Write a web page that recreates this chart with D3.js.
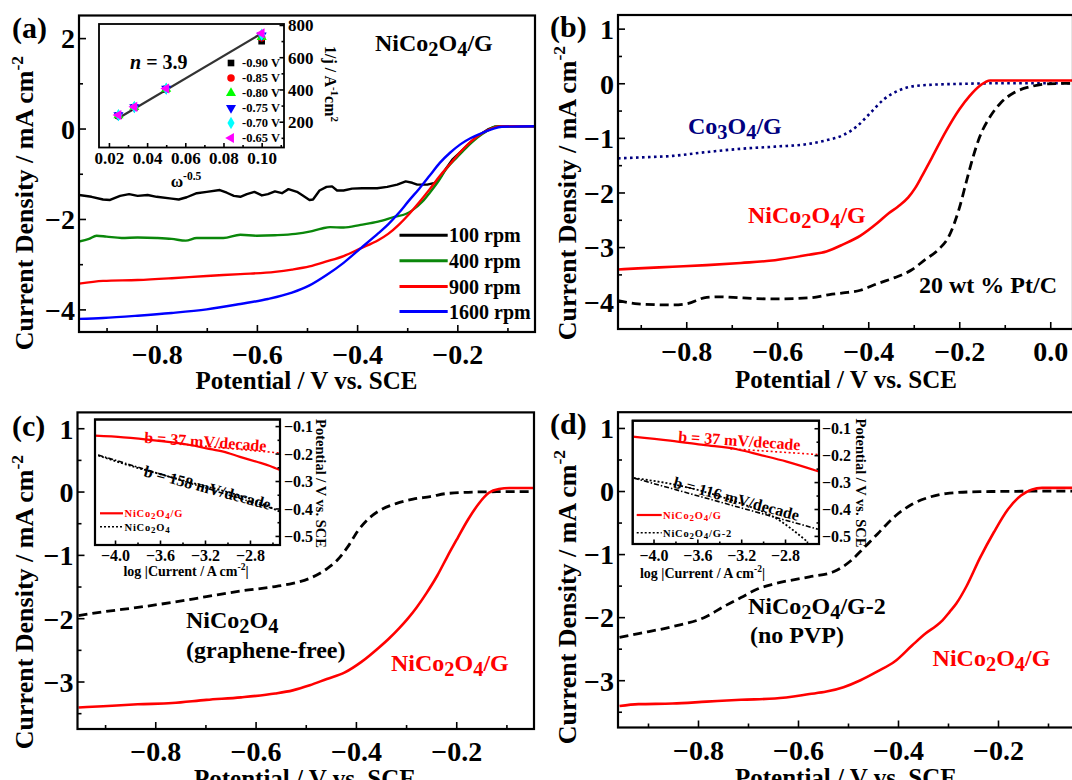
<!DOCTYPE html>
<html>
<head>
<meta charset="utf-8">
<script src="https://cdn.jsdelivr.net/npm/d3@7"></script>
<style>
  body { margin: 0; background: #fff; }
  svg { display: block; }
</style>
</head>
<body>
<script>
// ---------------- Panel (a): LSV of NiCo2O4/G at several rotation rates ----------------
// potential (V vs. SCE), current density (mA cm^-2)
const rpmLabels = ["100 rpm", "400 rpm", "900 rpm", "1600 rpm"];
const lsv100 = [[-0.955,-1.47],[-0.93,-1.51],[-0.907,-1.57],[-0.893,-1.58],[-0.873,-1.49],[-0.855,-1.45],[-0.838,-1.49],[-0.818,-1.47],[-0.80,-1.51],[-0.77,-1.55],[-0.756,-1.57],[-0.74,-1.52],[-0.72,-1.43],[-0.70,-1.40],[-0.674,-1.36],[-0.66,-1.42],[-0.646,-1.49],[-0.633,-1.51],[-0.62,-1.45],[-0.605,-1.40],[-0.59,-1.48],[-0.578,-1.45],[-0.564,-1.39],[-0.55,-1.43],[-0.537,-1.34],[-0.52,-1.40],[-0.51,-1.47],[-0.495,-1.58],[-0.488,-1.57],[-0.475,-1.37],[-0.461,-1.29],[-0.45,-1.28],[-0.44,-1.37],[-0.427,-1.37],[-0.41,-1.33],[-0.39,-1.32],[-0.36,-1.32],[-0.34,-1.29],[-0.32,-1.24],[-0.303,-1.17],[-0.29,-1.20],[-0.28,-1.24],[-0.26,-1.24],[-0.245,-1.20],[-0.235,-1.09],[-0.221,-0.86],[-0.21,-0.69],[-0.194,-0.52],[-0.18,-0.37],[-0.165,-0.21],[-0.15,-0.10],[-0.139,-0.02],[-0.125,0.04],[-0.11,0.05],[-0.045,0.05]];
const lsv400 = [[-0.955,-2.50],[-0.935,-2.44],[-0.92,-2.37],[-0.90,-2.39],[-0.87,-2.42],[-0.838,-2.41],[-0.80,-2.42],[-0.77,-2.44],[-0.742,-2.48],[-0.72,-2.42],[-0.70,-2.42],[-0.667,-2.42],[-0.633,-2.35],[-0.60,-2.37],[-0.564,-2.36],[-0.523,-2.33],[-0.495,-2.28],[-0.47,-2.21],[-0.454,-2.18],[-0.427,-2.19],[-0.393,-2.13],[-0.358,-2.06],[-0.324,-1.95],[-0.303,-1.89],[-0.29,-1.81],[-0.27,-1.62],[-0.255,-1.42],[-0.24,-1.20],[-0.221,-0.88],[-0.20,-0.63],[-0.18,-0.40],[-0.16,-0.20],[-0.14,-0.05],[-0.125,0.04],[-0.11,0.05],[-0.045,0.05]];
const lsv900 = [[-0.955,-3.43],[-0.907,-3.37],[-0.838,-3.35],[-0.77,-3.31],[-0.70,-3.26],[-0.633,-3.22],[-0.564,-3.17],[-0.53,-3.12],[-0.495,-3.05],[-0.461,-2.94],[-0.427,-2.82],[-0.393,-2.65],[-0.358,-2.47],[-0.338,-2.33],[-0.317,-2.13],[-0.297,-1.90],[-0.276,-1.63],[-0.255,-1.34],[-0.235,-1.05],[-0.214,-0.78],[-0.194,-0.52],[-0.173,-0.29],[-0.153,-0.12],[-0.132,0.0],[-0.111,0.05],[-0.045,0.05]];
const lsv1600 = [[-0.955,-4.21],[-0.907,-4.19],[-0.838,-4.14],[-0.77,-4.08],[-0.70,-4.00],[-0.633,-3.88],[-0.578,-3.77],[-0.53,-3.63],[-0.495,-3.47],[-0.461,-3.24],[-0.427,-2.97],[-0.393,-2.65],[-0.358,-2.32],[-0.338,-2.12],[-0.317,-1.87],[-0.297,-1.60],[-0.276,-1.33],[-0.255,-1.04],[-0.235,-0.76],[-0.214,-0.53],[-0.194,-0.35],[-0.173,-0.21],[-0.153,-0.11],[-0.132,-0.02],[-0.111,0.04],[-0.045,0.05]];

// Koutecky-Levich inset: omega^-0.5 vs 1/j (A^-1 cm^2)
const klOmega = [0.025, 0.0333, 0.05, 0.1];
const klPotentials = ["-0.90 V", "-0.85 V", "-0.80 V", "-0.75 V", "-0.70 V", "-0.65 V"];
const klInvJ090 = [238, 288, 402, 700];
const klInvJ085 = [239, 289, 403, 720];
const klInvJ080 = [240, 290, 404, 725];
const klInvJ075 = [240, 290, 405, 735];
const klInvJ070 = [241, 291, 405, 740];
const klInvJ065 = [242, 292, 406, 748];
const klFit = [[0.024, 215], [0.101, 755]];
const klElectrons = "n = 3.9";

// ---------------- Panel (b): comparison with Co3O4/G and Pt/C ----------------
const co3o4G = [[-0.95,-1.375],[-0.906,-1.36],[-0.83,-1.33],[-0.755,-1.26],[-0.68,-1.20],[-0.605,-1.16],[-0.53,-1.11],[-0.49,-1.04],[-0.455,-0.95],[-0.425,-0.79],[-0.395,-0.54],[-0.365,-0.29],[-0.335,-0.14],[-0.305,-0.06],[-0.267,-0.03],[-0.19,-0.01],[-0.117,0.0],[0.05,0.0]];
const nico2o4GB = [[-0.95,-3.41],[-0.906,-3.39],[-0.83,-3.36],[-0.755,-3.33],[-0.68,-3.29],[-0.605,-3.24],[-0.53,-3.14],[-0.492,-3.08],[-0.455,-2.95],[-0.417,-2.79],[-0.38,-2.56],[-0.355,-2.38],[-0.335,-2.26],[-0.312,-2.09],[-0.297,-1.92],[-0.282,-1.70],[-0.26,-1.36],[-0.23,-0.89],[-0.2,-0.48],[-0.177,-0.23],[-0.154,-0.04],[-0.132,0.05],[0.05,0.05]];
const ptC = [[-0.95,-3.98],[-0.906,-4.04],[-0.83,-4.06],[-0.8,-4.04],[-0.755,-3.92],[-0.725,-3.91],[-0.68,-3.93],[-0.605,-3.95],[-0.53,-3.93],[-0.485,-3.87],[-0.455,-3.84],[-0.417,-3.79],[-0.38,-3.67],[-0.342,-3.56],[-0.305,-3.42],[-0.275,-3.23],[-0.245,-3.04],[-0.222,-2.79],[-0.2,-2.29],[-0.184,-1.79],[-0.17,-1.36],[-0.155,-0.98],[-0.132,-0.61],[-0.109,-0.36],[-0.079,-0.17],[-0.042,-0.06],[-0.004,-0.01],[0.05,0.0]];

// ---------------- Panel (c): graphene-free NiCo2O4 ----------------
const nico2o4GC = [[-0.953,-3.41],[-0.904,-3.39],[-0.835,-3.36],[-0.766,-3.34],[-0.698,-3.29],[-0.629,-3.25],[-0.561,-3.19],[-0.526,-3.14],[-0.492,-3.06],[-0.458,-2.96],[-0.423,-2.86],[-0.389,-2.69],[-0.355,-2.47],[-0.334,-2.32],[-0.314,-2.16],[-0.297,-2.01],[-0.279,-1.83],[-0.259,-1.60],[-0.238,-1.33],[-0.218,-1.03],[-0.197,-0.73],[-0.177,-0.45],[-0.156,-0.20],[-0.135,-0.02],[-0.115,0.04],[-0.094,0.055],[-0.045,0.055]];
const nico2o4Free = [[-0.953,-1.96],[-0.904,-1.90],[-0.835,-1.83],[-0.766,-1.75],[-0.698,-1.66],[-0.629,-1.57],[-0.561,-1.50],[-0.526,-1.45],[-0.492,-1.37],[-0.458,-1.22],[-0.437,-1.08],[-0.416,-0.87],[-0.396,-0.62],[-0.375,-0.43],[-0.355,-0.31],[-0.32,-0.19],[-0.286,-0.12],[-0.252,-0.08],[-0.218,-0.03],[-0.149,-0.005],[-0.045,0.0]];
// Tafel inset (c): log|j| vs potential (V vs. SCE)
const tafelGC = [[-4.18,-0.135],[-3.926,-0.141],[-3.63,-0.153],[-3.333,-0.169],[-3.185,-0.181],[-3.037,-0.193],[-2.889,-0.212],[-2.74,-0.230],[-2.622,-0.245],[-2.533,-0.260]];
const tafelGFitC = [[-3.4,-0.166],[-2.533,-0.198]];
const tafelFree = [[-4.15,-0.207],[-3.9,-0.24],[-3.6,-0.275],[-3.3,-0.308],[-3.0,-0.34],[-2.8,-0.365],[-2.533,-0.412]];
const tafelFreeFit = [[-4.15,-0.205],[-2.6,-0.40]];
const tafelSlopesC = ["b = 37 mV/decade", "b = 158 mV/decade"];

// ---------------- Panel (d): NiCo2O4/G-2 prepared without PVP ----------------
const nico2o4GD = [[-0.957,-3.41],[-0.919,-3.38],[-0.851,-3.37],[-0.783,-3.34],[-0.714,-3.31],[-0.646,-3.29],[-0.577,-3.22],[-0.543,-3.18],[-0.509,-3.11],[-0.475,-3.0],[-0.441,-2.86],[-0.406,-2.70],[-0.372,-2.45],[-0.345,-2.26],[-0.324,-2.14],[-0.311,-2.05],[-0.297,-1.92],[-0.283,-1.78],[-0.263,-1.51],[-0.236,-1.06],[-0.208,-0.65],[-0.181,-0.30],[-0.154,-0.07],[-0.133,0.02],[-0.112,0.05],[-0.044,0.05]];
const nico2o4G2 = [[-0.957,-2.32],[-0.919,-2.26],[-0.851,-2.15],[-0.783,-1.99],[-0.748,-1.83],[-0.714,-1.69],[-0.68,-1.55],[-0.646,-1.47],[-0.577,-1.36],[-0.529,-1.28],[-0.495,-1.11],[-0.468,-0.90],[-0.441,-0.68],[-0.406,-0.40],[-0.372,-0.21],[-0.338,-0.10],[-0.304,-0.04],[-0.236,-0.01],[-0.044,0.0]];
const tafelGD = [[-4.19,-0.131],[-3.848,-0.146],[-3.545,-0.162],[-3.24,-0.178],[-3.028,-0.199],[-2.785,-0.224],[-2.49,-0.261]];
const tafelGFitD = [[-3.3,-0.176],[-2.49,-0.198]];
const tafelG2 = [[-4.18,-0.285],[-3.8,-0.31],[-3.5,-0.34],[-3.2,-0.38],[-2.9,-0.43],[-2.6,-0.52]];
const tafelG2Fit = [[-4.18,-0.285],[-2.5,-0.475]];
const tafelSlopesD = ["b = 37 mV/decade", "b = 116 mV/decade"];

// ---------------- Drawing ----------------
const FONT = '"Liberation Serif","Times New Roman",serif';
const RED = "#ff0000", NAVY = "#000080", GREEN = "#0a870a", BLUE = "#0000ff";

const svg = d3.select("body").append("svg")
  .attr("width", 1072).attr("height", 780)
  .attr("font-family", FONT).attr("font-weight", "bold");

let clipCount = 0;
function frame(o) {
  const x = d3.scaleLinear().domain(o.xd).range([o.l, o.r]);
  const y = d3.scaleLinear().domain(o.yd).range([o.b, o.t]);
  const id = "clip" + (clipCount++);
  svg.append("clipPath").attr("id", id).append("rect")
    .attr("x", o.l).attr("y", o.t).attr("width", o.r - o.l).attr("height", o.b - o.t);
  return { x, y, o, clip: `url(#${id})` };
}

// text with _{sub} and ^{sup} markup
function rich(sel, str, size) {
  const re = /([_^])\{([^}]*)\}/g;
  let last = 0, m, shift = 0;
  const add = (t, k) => {
    const ts = sel.append("tspan").text(t);
    const target = k === "_" ? size * 0.22 : k === "^" ? -size * 0.4 : 0;
    if (target !== shift) { ts.attr("dy", target - shift); shift = target; }
    if (k) ts.attr("font-size", size * (k === "_" ? 0.85 : 0.68));
  };
  while ((m = re.exec(str))) {
    if (m.index > last) add(str.slice(last, m.index), null);
    add(m[2], m[1]);
    last = re.lastIndex;
  }
  if (last < str.length) add(str.slice(last), null);
  return sel;
}

function label(x, y, str, size, color, opts = {}) {
  const t = svg.append("text").attr("x", x).attr("y", y)
    .attr("font-size", size).attr("fill", color || "#000")
    .attr("text-anchor", opts.anchor || "start");
  if (opts.transform) t.attr("transform", opts.transform).attr("x", 0).attr("y", 0);
  if (opts.spacing) t.attr("letter-spacing", opts.spacing);
  rich(t, str, size);
  return t;
}

function curve(p, data, st) {
  svg.append("path").datum(data)
    .attr("clip-path", p.clip)
    .attr("fill", "none")
    .attr("stroke", st.color)
    .attr("stroke-width", st.width || 2.4)
    .attr("stroke-dasharray", st.dash || null)
    .attr("stroke-linejoin", "round")
    .attr("d", d3.line().x(d => p.x(d[0])).y(d => p.y(d[1])).curve(st.curve || d3.curveLinear));
}

function box(p, fill) {
  const o = p.o;
  svg.append("rect").attr("x", o.l).attr("y", o.t).attr("width", o.r - o.l).attr("height", o.b - o.t)
    .attr("fill", fill || "none").attr("stroke", "#000").attr("stroke-width", fill ? 1.8 : 2.2);
}

function styleAxis(g, size) {
  g.attr("font-family", FONT).attr("font-size", size).attr("font-weight", "bold");
  g.select(".domain").remove();
  g.selectAll("line").attr("stroke", "#000").attr("stroke-width", 1.6);
  g.selectAll("text").attr("fill", "#000");
}

function mainAxes(p, ax) {
  const { x, y, o } = p;
  const fmtX = d3.format(".1f"), fmtY = d3.format("d");
  const g = svg.append("g");
  styleAxis(g.append("g").attr("transform", `translate(0,${o.b})`)
    .call(d3.axisBottom(x).tickValues(ax.xMin).tickSize(-4).tickFormat("")), 28);
  styleAxis(g.append("g").attr("transform", `translate(${o.l},0)`)
    .call(d3.axisLeft(y).tickValues(ax.yMin).tickSize(-4).tickFormat("")), 28);
  const xa = g.append("g").attr("transform", `translate(0,${o.b})`)
    .call(d3.axisBottom(x).tickValues(ax.xMaj).tickSize(-7).tickFormat(fmtX));
  styleAxis(xa, 28);
  xa.selectAll("text").attr("y", 32).attr("dy", null);
  const ya = g.append("g").attr("transform", `translate(${o.l},0)`)
    .call(d3.axisLeft(y).tickValues(ax.yMaj).tickSize(-7).tickFormat(fmtY));
  styleAxis(ya, 28);
  ya.selectAll("text").attr("x", -4).attr("dy", "0.35em");
}

function insetAxes(p, ax) {
  const { x, y, o } = p;
  const g = svg.append("g");
  styleAxis(g.append("g").attr("transform", `translate(0,${o.b})`)
    .call(d3.axisBottom(x).tickValues(ax.xMin).tickSize(-2.5).tickFormat("")), ax.size);
  styleAxis(g.append("g").attr("transform", `translate(${o.r},0)`)
    .call(d3.axisRight(y).tickValues(ax.yMin).tickSize(-2.5).tickFormat("")), ax.size);
  const xa = g.append("g").attr("transform", `translate(0,${o.b})`)
    .call(d3.axisBottom(x).tickValues(ax.xMaj).tickSize(-4.5).tickFormat(d3.format(ax.xFmt)));
  styleAxis(xa, ax.size);
  xa.selectAll("text").attr("y", ax.xOff).attr("dy", null);
  const ya = g.append("g").attr("transform", `translate(${o.r},0)`)
    .call(d3.axisRight(y).tickValues(ax.yMaj).tickSize(-4.5).tickFormat(d3.format(ax.yFmt)));
  styleAxis(ya, ax.size);
  ya.selectAll("text").attr("x", ax.yOff).attr("dy", "0.35em");
}

const mono = d3.curveMonotoneX;
const xMajA = [-0.8, -0.6, -0.4, -0.2], xMinA = [-0.9, -0.7, -0.5, -0.3, -0.1];

// ===== Panel (a) =====
const pa = frame({ l: 79, r: 535, t: 15.5, b: 332, xd: [-0.955, -0.045], yd: [-4.5, 2.5] });
const rpmSeries = [lsv100, lsv400, lsv900, lsv1600];
const rpmColors = ["#000", GREEN, RED, BLUE];
rpmSeries.forEach((s, i) => curve(pa, s, { color: rpmColors[i], curve: i === 0 ? d3.curveLinear : mono }));
mainAxes(pa, { xMaj: xMajA, xMin: xMinA, yMaj: [-4, -2, 0, 2], yMin: [-3, -1, 1] });
box(pa);
const legY = [235.2, 260.7, 286.5, 311.6];
rpmLabels.forEach((t, i) => {
  svg.append("line").attr("x1", 399.5).attr("x2", 447.7).attr("y1", legY[i]).attr("y2", legY[i])
    .attr("stroke", rpmColors[i]).attr("stroke-width", 3);
  label(449, legY[i] + 7, t, 20, "#000");
});
label(12, 38, "(a)", 30);
label(375, 51, "NiCo_{2}O_{4}/G", 24);
label(306.5, 389, "Potential / V vs. SCE", 25, "#000", { anchor: "middle" });
label(0, 0, "Current Density / mA cm^{-2}", 26, "#000", { anchor: "middle", transform: "translate(33,203) rotate(-90)" });

// Koutecky-Levich inset
const ia = frame({ l: 99, r: 284, t: 24, b: 147.5, xd: [0.0148, 0.1117], yd: [40, 806] });
box(ia, "#fff");
curve(ia, klFit, { color: "#333", width: 2.2 });
const klSeries = [klInvJ090, klInvJ085, klInvJ080, klInvJ075, klInvJ070, klInvJ065];
const klSym = [
  { type: d3.symbolSquare, color: "#000", rot: 0 },
  { type: d3.symbolCircle, color: "#ff0000", rot: 0 },
  { type: d3.symbolTriangle, color: "#00ff00", rot: 0 },
  { type: d3.symbolTriangle, color: "#0000ff", rot: 180 },
  { type: d3.symbolDiamond, color: "#00ffff", rot: 0 },
  { type: d3.symbolTriangle, color: "#ff00ff", rot: -90 }
];
klSeries.forEach((s, i) => {
  const sym = d3.symbol().type(klSym[i].type).size(44);
  svg.append("g").attr("clip-path", ia.clip).selectAll("path").data(s).join("path")
    .attr("d", sym)
    .attr("fill", klSym[i].color)
    .attr("transform", (d, j) => `translate(${ia.x(klOmega[j])},${ia.y(d)}) rotate(${klSym[i].rot})`);
});
klPotentials.forEach((t, i) => {
  const yy = 63 + 15 * i;
  svg.append("path").attr("d", d3.symbol().type(klSym[i].type).size(44))
    .attr("fill", klSym[i].color).attr("transform", `translate(231,${yy}) rotate(${klSym[i].rot})`);
  label(242, yy + 4.3, t, 12.5, "#000");
});
insetAxes(ia, { xMaj: [0.02, 0.04, 0.06, 0.08, 0.10], xMin: [0.03, 0.05, 0.07, 0.09, 0.11],
  yMaj: [200, 400, 600, 800], yMin: [100, 300, 500, 700], xFmt: ".2f", yFmt: "d", size: 17, xOff: 16, yOff: 4 });
svg.append("text").attr("x", 130).attr("y", 69).attr("font-size", 20)
  .call(t => {
    const parts = klElectrons.split(" ");
    t.append("tspan").attr("font-style", "italic").text(parts[0]);
    t.append("tspan").text(" " + parts.slice(1).join(" "));
  });
label(186, 187, "ω^{-0.5}", 17, "#000", { anchor: "middle" });
label(0, 0, "1/j / A^{-1}cm^{2}", 16, "#000", { anchor: "middle", transform: "translate(325,84) rotate(90)" });

// ===== Panel (b) =====
const pb = frame({ l: 618, r: 1073, t: 15, b: 329, xd: [-0.95, 0.05], yd: [-4.5, 1.25] });
curve(pb, co3o4G, { color: NAVY, width: 2.6, dash: "2.6,3.4", curve: mono });
curve(pb, ptC, { color: "#000", width: 2.8, dash: "9,5", curve: mono });
curve(pb, nico2o4GB, { color: RED, width: 2.6, curve: mono });
mainAxes(pb, { xMaj: [-0.8, -0.6, -0.4, -0.2, 0.0], xMin: [-0.9, -0.7, -0.5, -0.3, -0.1],
  yMaj: [-4, -3, -2, -1, 0, 1], yMin: [-3.5, -2.5, -1.5, -0.5, 0.5] });
box(pb);
label(550, 37, "(b)", 30);
label(688, 134, "Co_{3}O_{4}/G", 24, NAVY);
label(748, 223, "NiCo_{2}O_{4}/G", 24, RED);
label(919, 293, "20 wt % Pt/C", 24, "#000");
label(846, 388, "Potential / V vs. SCE", 25, "#000", { anchor: "middle" });
label(0, 0, "Current Density / mA cm^{-2}", 26, "#000", { anchor: "middle", transform: "translate(575.5,193) rotate(-90)" });

// ===== Panel (c) =====
const pc = frame({ l: 77.5, r: 534, t: 412.4, b: 729, xd: [-0.955, -0.045], yd: [-3.75, 1.25] });
curve(pc, nico2o4Free, { color: "#000", width: 2.8, dash: "9,5", curve: mono });
curve(pc, nico2o4GC, { color: RED, width: 2.6, curve: mono });
mainAxes(pc, { xMaj: xMajA, xMin: xMinA, yMaj: [-3, -2, -1, 0, 1], yMin: [-3.5, -2.5, -1.5, -0.5, 0.5] });
box(pc);
label(12, 436, "(c)", 30);
label(186, 628, "NiCo_{2}O_{4}", 24, "#000");
label(186, 658, "(graphene-free)", 24, "#000");
label(391, 671, "NiCo_{2}O_{4}/G", 24, RED);
label(305, 787, "Potential / V vs. SCE", 25, "#000", { anchor: "middle" });
label(0, 0, "Current Density / mA cm^{-2}", 26, "#000", { anchor: "middle", transform: "translate(33,602) rotate(-90)" });

// Tafel inset (c)
const ic = frame({ l: 95, r: 280, t: 419.5, b: 545, xd: [-4.178, -2.533], yd: [-0.533, -0.076] });
box(ic, "#fff");
curve(ic, tafelGFitC, { color: RED, width: 1.6, dash: "2,2.5" });
curve(ic, tafelGC, { color: RED, width: 2.2, curve: mono });
curve(ic, tafelFree, { color: "#000", width: 1.8, dash: "2,2", curve: mono });
curve(ic, tafelFreeFit, { color: "#000", width: 1.6, dash: "5,2,1.5,2" });
insetAxes(ic, { xMaj: [-4.0, -3.6, -3.2, -2.8], xMin: [-3.8, -3.4, -3.0, -2.6],
  yMaj: [-0.5, -0.4, -0.3, -0.2, -0.1], yMin: [-0.45, -0.35, -0.25, -0.15], xFmt: ".1f", yFmt: ".1f", size: 16, xOff: 15.5, yOff: 4 });
box(ic);
label(0, 0, tafelSlopesC[0], 16, RED, { anchor: "middle", transform: "translate(205,447) rotate(4)" });
label(0, 0, tafelSlopesC[1], 16, "#000", { anchor: "middle", transform: "translate(206,493) rotate(15)" });
svg.append("line").attr("x1", 100).attr("x2", 123).attr("y1", 513.3).attr("y2", 513.3).attr("stroke", RED).attr("stroke-width", 2.2);
svg.append("line").attr("x1", 100).attr("x2", 123).attr("y1", 526.7).attr("y2", 526.7).attr("stroke", "#000").attr("stroke-width", 1.6).attr("stroke-dasharray", "2,2");
label(124.5, 517, "NiCo_{2}O_{4}/G", 10.5, RED, { spacing: 0.8 });
label(124.5, 530.5, "NiCo_{2}O_{4}", 10.5, "#000", { spacing: 0.8 });
label(186, 576, "log |Current / A cm^{-2}|", 14, "#000", { anchor: "middle" });
label(0, 0, "Potential / V vs. SCE", 14.5, "#000", { anchor: "middle", transform: "translate(315.5,483.5) rotate(90)" });

// ===== Panel (d) =====
const pd = frame({ l: 618, r: 1076, t: 412.2, b: 727.5, xd: [-0.96, -0.044], yd: [-3.75, 1.25] });
curve(pd, nico2o4G2, { color: "#000", width: 2.8, dash: "9,5", curve: mono });
curve(pd, nico2o4GD, { color: RED, width: 2.6, curve: mono });
mainAxes(pd, { xMaj: xMajA, xMin: xMinA, yMaj: [-3, -2, -1, 0, 1], yMin: [-3.5, -2.5, -1.5, -0.5, 0.5] });
box(pd);
label(550, 434, "(d)", 30);
label(748, 614, "NiCo_{2}O_{4}/G-2", 24, "#000");
label(750, 643, "(no PVP)", 24, "#000");
label(932.6, 666, "NiCo_{2}O_{4}/G", 24, RED);
label(846, 786, "Potential / V vs. SCE", 25, "#000", { anchor: "middle" });
label(0, 0, "Current Density / mA cm^{-2}", 26, "#000", { anchor: "middle", transform: "translate(575.5,597) rotate(-90)" });

// Tafel inset (d)
const id = frame({ l: 632.7, r: 819, t: 420.7, b: 544, xd: [-4.19, -2.49], yd: [-0.53, -0.072] });
box(id, "#fff");
curve(id, tafelGFitD, { color: RED, width: 1.6, dash: "2,2.5" });
curve(id, tafelGD, { color: RED, width: 2.2, curve: mono });
curve(id, tafelG2, { color: "#000", width: 1.8, dash: "2,2", curve: mono });
curve(id, tafelG2Fit, { color: "#000", width: 1.6, dash: "5,2,1.5,2" });
insetAxes(id, { xMaj: [-4.0, -3.6, -3.2, -2.8], xMin: [-3.8, -3.4, -3.0, -2.6],
  yMaj: [-0.5, -0.4, -0.3, -0.2, -0.1], yMin: [-0.45, -0.35, -0.25, -0.15], xFmt: ".1f", yFmt: ".1f", size: 16, xOff: 16.5, yOff: 3 });
box(id);
label(0, 0, tafelSlopesD[0], 16, RED, { anchor: "middle", transform: "translate(739,446) rotate(4)" });
label(0, 0, tafelSlopesD[1], 16, "#000", { anchor: "middle", transform: "translate(735,504) rotate(15)" });
svg.append("line").attr("x1", 636.7).attr("x2", 661.7).attr("y1", 515).attr("y2", 515).attr("stroke", RED).attr("stroke-width", 2.2);
svg.append("line").attr("x1", 636.7).attr("x2", 661.7).attr("y1", 532.7).attr("y2", 532.7).attr("stroke", "#000").attr("stroke-width", 1.6).attr("stroke-dasharray", "2,2");
label(663, 518.7, "NiCo_{2}O_{4}/G", 10.5, RED, { spacing: 0.8 });
label(663, 536.5, "NiCo_{2}O_{4}/G-2", 10.5, "#000", { spacing: 0.8 });
label(702.5, 578, "log |Current / A cm^{-2}|", 14, "#000", { anchor: "middle" });
label(0, 0, "Potential / V vs. SCE", 14.5, "#000", { anchor: "middle", transform: "translate(856,483) rotate(90)" });
</script>
</body>
</html>
